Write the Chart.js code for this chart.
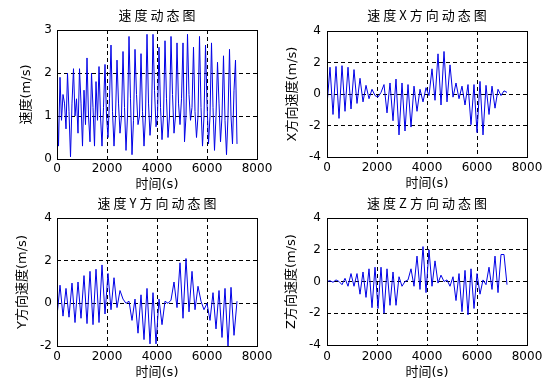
<!DOCTYPE html>
<html>
<head>
<meta charset="utf-8">
<script src="https://cdn.jsdelivr.net/npm/chart.js@4.4.1/dist/chart.umd.min.js"></script>
<style>
    body { margin: 0; background: #fff; }
    #wrap { position: relative; width: 560px; height: 388px; }
    canvas { position: absolute; }
</style>
</head>
<body>
<div id="wrap">
    <canvas id="speedChart" width="280" height="194" style="left:0;top:0"></canvas>
    <canvas id="xChart" width="280" height="194" style="left:280px;top:0"></canvas>
    <canvas id="yChart" width="280" height="194" style="left:0;top:194px"></canvas>
    <canvas id="zChart" width="280" height="194" style="left:280px;top:194px"></canvas>
</div>
<script>
// sample spacing (s)
const speedStep = 60;
const axisStep = 120;

const timeTicks = [0, 2000, 4000, 6000, 8000];
const speedTicks = [0, 1, 2, 3];
const wideTicks = [-4, -2, 0, 2, 4];
const yDirTicks = [-2, 0, 2, 4];

// 速度 (m/s), one value every 60 s
const speed = [
    1.3, 0.3, 1.9, 0.9, 1.5, 1.3, 0.7, 2.0, 1.1, 0.05,
    1.3, 2.1, 1.0, 1.4, 0.6, 2.1, 1.3, 0.3, 1.6, 0.8,
    2.35, 1.0, 0.4, 2.0, 1.2, 0.3, 1.8, 0.9, 2.15, 1.0,
    0.3, 1.2, 2.2, 1.0, 0.5, 1.4, 2.65, 1.1, 0.3, 1.0,
    2.3, 1.3, 0.6, 1.0, 2.5, 1.2, 0.2, 1.0, 2.85, 1.4,
    0.1, 0.9, 2.55, 1.5, 0.8, 1.0, 2.45, 1.1, 0.3, 1.0,
    2.9, 1.3, 0.55, 1.0, 2.9, 1.6, 0.75, 1.0, 2.6, 1.2,
    0.45, 1.0, 2.75, 1.4, 0.5, 1.0, 2.85, 1.5, 0.6, 1.0,
    2.7, 1.3, 0.8, 1.4, 2.7, 0.4, 1.0, 2.9, 1.5, 0.9,
    1.2, 2.6, 1.1, 0.5, 1.0, 2.85, 1.2, 0.3, 1.0, 2.65,
    1.3, 0.35, 1.0, 2.7, 1.2, 0.2, 1.0, 2.25, 1.3, 0.4,
    1.0, 2.4, 0.9, 0.1, 1.0, 2.55, 1.0, 0.35, 1.6, 2.3,
    0.35
];

// X / Y / Z 方向速度 (m/s), one value every 120 s
const velX = [
    -0.7, 1.7, -1.3, 1.75, -1.55, 1.8, -1.1, 1.7, -0.95, 1.55,
    -0.6, 1.0, -0.5, 0.55, -0.3, 0.3, -0.1, -0.2, 0.1, 0.6,
    -1.2, 0.7, -1.7, 0.95, -2.6, 0.7, -2.35, 0.6, -2.1, 0.5,
    -1.1, 0.3, -0.5, 0.4, -0.1, 1.6, -0.4, 2.55, -0.7, 2.7,
    -0.5, 1.85, -0.2, 0.7, -0.3, 0.5, -0.7, 0.6, -1.95, 0.6,
    -2.45, 0.8, -2.6, 0.55, -1.3, 0.5, -0.9, 0.3, -0.1, 0.2,
    0.1
];
const velY = [
    -0.6, 0.85, -0.6, 0.7, -0.65, 0.95, -0.9, 1.0, -0.7, 1.3,
    -0.95, 1.5, -1.0, 1.6, -0.9, 1.8, -0.5, 1.4, -0.3, 1.2,
    -0.2, 0.6, 0.2, 0.0, 0.1, -0.8, 0.2, -1.4, 0.4, -1.7,
    0.7, -1.9, 0.5, -1.9, 0.2, -1.0, 0.1, 0.0, 0.15, 1.0,
    -0.2, 1.9, -0.7, 2.1, -0.4, 1.5, -0.3, 0.8, 0.1, -0.3,
    0.0, -0.8, 0.5, -1.2, 0.6, -1.6, 0.7, -2.0, 0.75, -1.5,
    0.1
];
const velZ = [
    0.0, 0.05, -0.05, 0.1, 0.0, -0.2, 0.2, -0.3, 0.5, -0.3,
    0.5, -0.8, 0.6, -1.0, 0.8, -1.65, 0.9, -1.7, 0.9, -2.0,
    0.8, -1.5, 0.6, -1.5, 0.3, -0.3, 0.0, 0.1, 0.8, -0.3,
    1.6, -0.5, 2.2, -0.7, 2.0, -0.3, 1.3, -0.1, 0.4, 0.0,
    0.1, -0.3, 0.3, -1.2, 0.5, -1.9, 0.7, -2.1, 0.8, -1.7,
    0.5, -0.8, 0.1, -0.2, 0.9, -0.5, 1.6, -0.7, 1.7, 1.7,
    -0.2
];

const textFont = '"DejaVu Sans", "Noto Sans CJK SC", sans-serif';
const labelSize = 13;
const labelHalf = labelSize * 1.2 / 2;

// box around the plot area + chart title (MATLAB style)
const framePlugin = {
    id: 'frame',
    afterDraw(chart, args, opts) {
        const { ctx, chartArea: a } = chart;
        ctx.save();
        ctx.strokeStyle = '#000';
        ctx.lineWidth = 1;
        ctx.setLineDash([]);
        ctx.strokeRect(Math.round(a.left) + 0.5, Math.round(a.top) + 0.5,
            Math.round(a.right - a.left), Math.round(a.bottom - a.top));
        ctx.font = '13px "Noto Sans CJK SC", sans-serif';
        ctx.letterSpacing = '3px';
        ctx.fillStyle = '#000';
        ctx.textAlign = 'center';
        ctx.textBaseline = 'middle';
        ctx.fillText(opts.text, (a.left + a.right) / 2 + 1.5, opts.y);
        ctx.restore();
    }
};

function makeChart(id, values, step, yTicks, title, yLabel, box) {
    const padLeft = box.yTitleX - labelHalf;
    const ctx = document.getElementById(id).getContext('2d');
    return new Chart(ctx, {
        type: 'line',
        data: {
            datasets: [{
                data: values.map((v, i) => ({ x: i * step, y: v })),
                borderColor: 'rgb(0, 0, 230)',
                borderWidth: 1,
                pointRadius: 0,
                tension: 0,
                fill: false
            }]
        },
        options: {
            responsive: false,
            animation: false,
            devicePixelRatio: 1,
            layout: {
                padding: { left: padLeft, top: box.top, right: 280 - box.right, bottom: 0 }
            },
            plugins: {
                legend: { display: false },
                tooltip: { enabled: false },
                frame: { text: title, y: box.titleY }
            },
            scales: {
                x: {
                    type: 'linear',
                    min: timeTicks[0],
                    max: timeTicks[timeTicks.length - 1],
                    afterFit: scale => { scale.height = 194 - box.bottom; },
                    grid: { color: '#000', lineWidth: 1, drawTicks: false },
                    border: { display: false, dash: [4, 3] },
                    ticks: {
                        stepSize: timeTicks[1] - timeTicks[0],
                        color: '#000',
                        padding: box.xLabelY - box.bottom - 7.2,
                        maxRotation: 0,
                        callback: value => String(value),
                        font: { family: 'DejaVu Sans', size: 12 }
                    },
                    title: {
                        display: true,
                        text: '时间(s)',
                        color: '#000',
                        font: { family: textFont, size: labelSize },
                        padding: { top: 0, bottom: 194 - box.xTitleY - labelHalf }
                    }
                },
                y: {
                    min: yTicks[0],
                    max: yTicks[yTicks.length - 1],
                    afterFit: scale => { scale.width = box.left - padLeft; },
                    grid: { color: '#000', lineWidth: 1, drawTicks: false },
                    border: { display: false, dash: [4, 3] },
                    ticks: {
                        stepSize: yTicks[1] - yTicks[0],
                        color: '#000',
                        padding: box.yTickPad,
                        callback: value => String(value),
                        font: { family: 'DejaVu Sans', size: 12 }
                    },
                    title: {
                        display: true,
                        text: yLabel,
                        color: '#000',
                        font: { family: textFont, size: labelSize },
                        padding: 0
                    }
                }
            }
        },
        plugins: [framePlugin]
    });
}

makeChart('speedChart', speed, speedStep, speedTicks, '速度动态图', '速度(m/s)',
    { left: 57, right: 257, top: 30, bottom: 159, titleY: 15, yTitleX: 27, yTickPad: 5, xLabelY: 169, xTitleY: 185 });
makeChart('xChart', velX, axisStep, wideTicks, '速度X方向动态图', 'X方向速度(m/s)',
    { left: 47, right: 247, top: 31, bottom: 157, titleY: 15, yTitleX: 13, yTickPad: 6, xLabelY: 168, xTitleY: 184 });
makeChart('yChart', velY, axisStep, yDirTicks, '速度Y方向动态图', 'Y方向速度(m/s)',
    { left: 57, right: 257, top: 24, bottom: 152, titleY: 9.5, yTitleX: 23, yTickPad: 5, xLabelY: 163, xTitleY: 179 });
makeChart('zChart', velZ, axisStep, wideTicks, '速度Z方向动态图', 'Z方向速度(m/s)',
    { left: 47, right: 247, top: 24, bottom: 151, titleY: 9.5, yTitleX: 12, yTickPad: 6, xLabelY: 163, xTitleY: 179 });
</script>
</body>
</html>
